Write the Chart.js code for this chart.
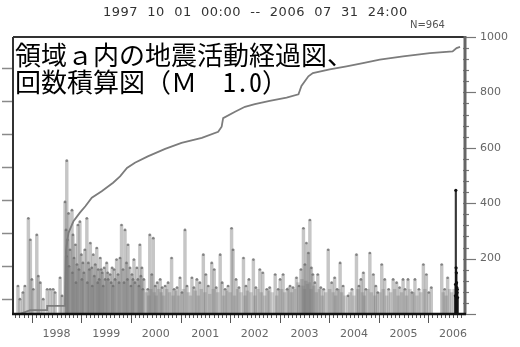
<!DOCTYPE html>
<html>
<head>
<meta charset="utf-8">
<script src="https://cdn.jsdelivr.net/npm/chart.js@4"></script>
<style>
  html, body { margin: 0; padding: 0; background: #fff; }
  #wrap { position: relative; width: 520px; height: 347px; overflow: hidden; }
  #c { position: absolute; left: 0; top: 0; }
  .t { position: absolute; white-space: pre; }
  #period { left: 103px; top: 4px; font: 13px "DejaVu Sans"; letter-spacing: 0.5px; color: #333; }
  #count { left: 410px; top: 19px; font: 10px "DejaVu Sans"; color: #555; }
  #cap { left: 15px; top: 40px; font: 26px/27px "Noto Sans Mono CJK JP", "Noto Sans CJK JP"; color: #000; }
</style>
</head>
<body>
<div id="wrap">
  <canvas id="c" width="520" height="347"></canvas>
  <div class="t" id="period"></div>
  <div class="t" id="count"></div>
  <div class="t" id="cap"></div>
</div>
<script>
// Period and caption
const periodLabel = '1997  10  01  00:00  --  2006  07  31  24:00';
const totalCount = 964;
const captionLines = ['領域ａ内の地震活動経過図、', '回数積算図（Ｍ　1.0）'];

// Axis ticks
const yearLabels = [1998, 1999, 2000, 2001, 2002, 2003, 2004, 2005, 2006];
const countTicks = [200, 400, 600, 800, 1000];
const countMinorStep = 40;
const magTicks = [1, 2, 3, 4, 5, 6, 7, 8];
const magAxisMin = 0.55;

// Cumulative number of events (decimal year, count)
const cumTime = [1997.75, 1997.97, 1998.31, 1998.31, 1998.67, 1998.69, 1998.74, 1998.84, 1998.97, 1999.08,
                 1999.21, 1999.41, 1999.64, 1999.78, 1999.92, 2000.08, 2000.34, 2000.69, 2001.02, 2001.43,
                 2001.76, 2001.83, 2001.86, 2002.10, 2002.30, 2002.50, 2002.80, 2003.14, 2003.38, 2003.44,
                 2003.58, 2003.67, 2004.01, 2004.35, 2004.68, 2005.02, 2005.49, 2006.03, 2006.49, 2006.57,
                 2006.64];
const cumCount = [0, 14, 14, 29, 29, 233, 293, 335, 366, 389,
                  420, 443, 474, 497, 527, 546, 569, 596, 618, 636,
                  658, 676, 707, 730, 748, 758, 769, 781, 793, 823,
                  858, 870, 883, 894, 906, 918, 930, 942, 948, 960,
                  964];

// Individual events (decimal year, magnitude)
const eventTime = [
  1997.72, 1997.76, 1997.82, 1997.86, 1997.93, 1997.97, 1998.00, 1998.03, 1998.10, 1998.13,
  1998.17, 1998.23, 1998.31, 1998.37, 1998.43, 1998.47, 1998.57, 1998.61, 1998.67, 1998.69,
  1998.70, 1998.705, 1998.72, 1998.74, 1998.75, 1998.77, 1998.81, 1998.82, 1998.83, 1998.85,
  1998.88, 1998.89, 1998.91, 1998.93, 1998.95, 1998.97, 1999.00, 1999.01, 1999.03, 1999.05,
  1999.07, 1999.11, 1999.12, 1999.14, 1999.16, 1999.18, 1999.21, 1999.22, 1999.24, 1999.26,
  1999.28, 1999.31, 1999.33, 1999.34, 1999.36, 1999.38, 1999.40, 1999.42, 1999.44, 1999.46,
  1999.48, 1999.51, 1999.53, 1999.54, 1999.58, 1999.60, 1999.62, 1999.64, 1999.66, 1999.68,
  1999.71, 1999.74, 1999.76, 1999.78, 1999.81, 1999.84, 1999.86, 1999.88, 1999.91, 1999.93,
  1999.94, 1999.98, 2000.00, 2000.02, 2000.04, 2000.06, 2000.08, 2000.12, 2000.14, 2000.16,
  2000.18, 2000.20, 2000.22, 2000.24, 2000.26, 2000.34, 2000.38, 2000.42, 2000.45, 2000.49,
  2000.53, 2000.59, 2000.63, 2000.69, 2000.75, 2000.82, 2000.87, 2000.93, 2000.99, 2001.03,
  2001.09, 2001.13, 2001.23, 2001.27, 2001.33, 2001.39, 2001.46, 2001.51, 2001.56, 2001.63,
  2001.68, 2001.72, 2001.80, 2001.84, 2001.90, 2001.96, 2002.03, 2002.06, 2002.12, 2002.18,
  2002.27, 2002.32, 2002.38, 2002.47, 2002.52, 2002.60, 2002.66, 2002.74, 2002.80, 2002.91,
  2002.97, 2003.01, 2003.07, 2003.15, 2003.21, 2003.27, 2003.34, 2003.39, 2003.43, 2003.48,
  2003.51, 2003.54, 2003.58, 2003.61, 2003.64, 2003.67, 2003.71, 2003.77, 2003.83, 2003.89,
  2003.98, 2004.05, 2004.11, 2004.16, 2004.22, 2004.28, 2004.38, 2004.46, 2004.55, 2004.60,
  2004.64, 2004.69, 2004.74, 2004.82, 2004.89, 2004.94, 2004.98, 2005.06, 2005.12, 2005.20,
  2005.29, 2005.36, 2005.42, 2005.49, 2005.53, 2005.59, 2005.67, 2005.73, 2005.81, 2005.90,
  2005.96, 2006.01, 2006.06, 2006.27, 2006.33, 2006.39
];
const eventMag = [
  1.4, 1.0, 1.2, 1.4, 3.45, 2.8, 1.6, 1.3, 2.95, 1.7,
  1.5, 1.0, 1.3, 1.3, 1.3, 1.2, 1.65, 1.1, 3.95, 3.1,
  2.3, 5.2, 2.8, 3.6, 2.0, 2.5, 3.7, 1.8, 2.95, 2.25,
  2.65, 1.5, 2.05, 3.25, 1.9, 3.35, 2.35, 1.6, 2.1, 1.8,
  2.5, 3.45, 1.5, 2.1, 1.9, 2.7, 1.95, 1.4, 2.35, 1.7,
  2.05, 2.55, 1.5, 1.9, 1.6, 2.25, 1.9, 1.8, 1.4, 1.95,
  1.6, 2.1, 1.8, 1.6, 1.75, 1.5, 1.95, 1.4, 1.9, 1.6,
  2.2, 1.75, 1.5, 2.25, 3.25, 1.9, 1.5, 3.1, 2.1, 1.6,
  2.65, 1.95, 1.4, 1.75, 1.6, 2.2, 1.5, 1.95, 1.6, 1.4,
  2.65, 1.7, 1.95, 1.3, 1.6, 1.3, 2.95, 1.75, 2.85, 1.4,
  1.5, 1.6, 1.35, 1.4, 1.5, 2.25, 1.3, 1.35, 1.65, 1.2,
  3.1, 1.4, 1.65, 1.35, 1.6, 1.5, 2.35, 1.75, 1.4, 2.1,
  1.9, 1.35, 2.35, 1.5, 1.3, 1.4, 3.15, 2.5, 1.6, 1.35,
  2.25, 1.4, 1.6, 2.2, 1.35, 1.9, 1.8, 1.3, 1.35, 1.75,
  1.3, 1.6, 1.75, 1.3, 1.4, 1.35, 1.65, 1.4, 1.9, 3.15,
  2.05, 2.7, 2.4, 3.4, 1.95, 1.75, 1.5, 1.75, 1.35, 1.3,
  2.5, 1.5, 1.65, 1.3, 2.1, 1.4, 1.1, 1.3, 2.35, 1.4,
  1.6, 1.8, 1.3, 2.4, 1.75, 1.4, 1.2, 2.05, 1.6, 1.3,
  1.6, 1.5, 1.35, 1.6, 1.3, 1.6, 1.2, 1.6, 1.3, 2.05,
  1.75, 1.2, 1.35, 2.05, 1.3, 1.65
];

// Smaller events forming the low band after 2000
const minorTime = [
  2000.31, 2000.36, 2000.40, 2000.47, 2000.51, 2000.56, 2000.61, 2000.66, 2000.72, 2000.78,
  2000.85, 2000.90, 2000.96, 2001.06, 2001.16, 2001.20, 2001.30, 2001.36, 2001.42, 2001.49,
  2001.59, 2001.66, 2001.75, 2001.87, 2001.93, 2002.00, 2002.09, 2002.15, 2002.22, 2002.30,
  2002.35, 2002.42, 2002.50, 2002.56, 2002.63, 2002.70, 2002.77, 2002.85, 2002.94, 2003.04,
  2003.10, 2003.18, 2003.24, 2003.30, 2003.37, 2003.45, 2003.47, 2003.50, 2003.53, 2003.56,
  2003.60, 2003.63, 2003.69, 2003.74, 2003.80, 2003.86, 2003.93, 2004.01, 2004.08, 2004.13,
  2004.19, 2004.25, 2004.32, 2004.42, 2004.50, 2004.58, 2004.67, 2004.71, 2004.78, 2004.85,
  2004.92, 2005.02, 2005.09, 2005.16, 2005.24, 2005.32, 2005.39, 2005.46, 2005.56, 2005.63,
  2005.70, 2005.77, 2005.85, 2005.93, 2006.30, 2006.36, 2006.43, 2006.47, 2006.52
];
const minorMag = [
  1.2, 1.1, 1.3, 1.2, 1.1, 1.3, 1.2, 1.1, 1.3, 1.2,
  1.1, 1.25, 1.1, 1.3, 1.2, 1.1, 1.25, 1.1, 1.3, 1.2,
  1.15, 1.3, 1.2, 1.1, 1.25, 1.2, 1.1, 1.3, 1.2, 1.1,
  1.25, 1.2, 1.1, 1.3, 1.2, 1.1, 1.25, 1.2, 1.1, 1.3,
  1.2, 1.35, 1.2, 1.3, 1.5, 1.6, 1.4, 1.3, 1.55, 1.45,
  1.5, 1.3, 1.4, 1.2, 1.3, 1.1, 1.2, 1.3, 1.2, 1.1,
  1.3, 1.2, 1.1, 1.2, 1.1, 1.3, 1.2, 1.1, 1.3, 1.2,
  1.1, 1.2, 1.3, 1.1, 1.2, 1.3, 1.1, 1.2, 1.1, 1.3,
  1.2, 1.1, 1.2, 1.3, 1.2, 1.1, 1.3, 1.2, 1.3
];

// Events of the latest month
const recentTime = [2006.545, 2006.55, 2006.555, 2006.56, 2006.565, 2006.57, 2006.575, 2006.58, 2006.585, 2006.59];
const recentMag = [1.1, 1.45, 4.3, 1.95, 1.8, 1.5, 1.35, 1.2, 1.3, 1.05];

document.getElementById('period').textContent = periodLabel;
document.getElementById('count').textContent = 'N=' + totalCount;
document.getElementById('cap').textContent = captionLines.join('\n');

const stems = (ts, ms) => ts.map((t, i) => ({ x: t, y: [magAxisMin, ms[i]] }));
const tops = (ts, ms) => ts.map((t, i) => ({ x: t, y: ms[i] }));

// Axis frame, tick marks on all three axes
const frameAndTicks = {
  id: 'frameAndTicks',
  afterDraw(chart) {
    const { ctx, chartArea: a, scales } = chart;
    const seg = (x1, y1, x2, y2) => { ctx.beginPath(); ctx.moveTo(x1, y1); ctx.lineTo(x2, y2); ctx.stroke(); };
    ctx.save();
    ctx.strokeStyle = '#8a8a8a';
    ctx.lineWidth = 1.5;
    magTicks.forEach(m => { const y = Math.round(scales.yM.getPixelForValue(m)) + 0.5; seg(a.left - 11, y, a.left, y); });
    ctx.strokeStyle = '#777';
    ctx.lineWidth = 1.2;
    for (let v = 0; v <= 1000; v += countMinorStep) {
      const y = Math.round(scales.yN.getPixelForValue(v)) + 0.5;
      seg(a.right - 2, y, a.right + (v % 200 === 0 ? 11 : 4), y);
    }
    ctx.strokeStyle = '#555';
    ctx.lineWidth = 1;
    for (let yr = 1997; yr <= 2006; yr++) {
      for (let m = 0; m < 12; m++) {
        const v = yr + m / 12;
        if (v < scales.x.min || v > scales.x.max) continue;
        const x = Math.round(scales.x.getPixelForValue(v)) + 0.5;
        seg(x, a.bottom, x, a.bottom + (m === 0 ? 9 : 4));
      }
    }
    ctx.strokeStyle = '#333';
    ctx.lineWidth = 2;
    seg(a.left, a.top, a.right, a.top);
    seg(a.left, a.top, a.left, a.bottom);
    ctx.strokeStyle = '#666';
    ctx.lineWidth = 3;
    seg(a.right, a.top - 1, a.right, a.bottom + 1);
    ctx.strokeStyle = '#111';
    ctx.lineWidth = 2.5;
    seg(a.left - 1, a.bottom, a.right + 1, a.bottom);
    ctx.restore();
  }
};

const tickFont = { family: 'DejaVu Sans', size: 11 };

new Chart(document.getElementById('c'), {
  type: 'bar',
  data: {
    datasets: [
      {
        type: 'line', yAxisID: 'yN', order: 0,
        data: cumTime.map((t, i) => ({ x: t, y: cumCount[i] })),
        borderColor: '#7c7c7c', borderWidth: 1.8, pointRadius: 0, tension: 0, fill: false
      },
      {
        type: 'scatter', yAxisID: 'yM', order: 1,
        data: tops(recentTime, recentMag),
        pointRadius: 1.6, backgroundColor: '#111', borderWidth: 0
      },
      {
        type: 'bar', yAxisID: 'yM', order: 2, grouped: false,
        data: stems(recentTime, recentMag),
        backgroundColor: 'rgba(20,20,20,0.85)', barThickness: 1.5
      },
      {
        type: 'scatter', yAxisID: 'yM', order: 3,
        data: tops(eventTime, eventMag),
        pointRadius: 1.3, backgroundColor: 'rgba(110,110,110,0.8)', borderWidth: 0
      },
      {
        type: 'bar', yAxisID: 'yM', order: 4, grouped: false,
        data: stems(eventTime, eventMag),
        backgroundColor: 'rgba(120,120,120,0.42)', barThickness: 2.8
      },
      {
        type: 'bar', yAxisID: 'yM', order: 5, grouped: false,
        data: stems(minorTime, minorMag),
        backgroundColor: 'rgba(120,120,120,0.35)', barThickness: 2.8
      }
    ]
  },
  options: {
    responsive: false,
    animation: false,
    layout: { padding: { top: 37, left: 0, right: 0, bottom: 0 } },
    plugins: { legend: { display: false }, tooltip: { enabled: false }, title: { display: false } },
    scales: {
      x: {
        type: 'linear', min: 1997.62, max: 2006.74, offset: false,
        afterBuildTicks: s => { s.ticks = yearLabels.map(y => ({ value: y + 0.5 })); },
        ticks: { callback: v => String(Math.floor(v)), font: tickFont, color: '#666', padding: 14, maxRotation: 0, autoSkip: false },
        grid: { display: false, drawTicks: false },
        border: { display: false },
        afterFit: s => { s.height = 33; }
      },
      yM: {
        type: 'linear', position: 'left', min: magAxisMin, max: 8.95,
        afterBuildTicks: s => { s.ticks = magTicks.map(v => ({ value: v })); },
        ticks: { display: false },
        grid: { display: false, drawTicks: false },
        border: { display: false },
        afterFit: s => { s.width = 13; }
      },
      yN: {
        type: 'linear', position: 'right', min: 0, max: 1000,
        afterBuildTicks: s => { s.ticks = countTicks.map(v => ({ value: v })); },
        ticks: { callback: v => String(v), font: tickFont, color: '#666', padding: 15 },
        grid: { display: false, drawTicks: false },
        border: { display: false },
        afterFit: s => { s.width = 55; }
      }
    }
  },
  plugins: [frameAndTicks]
});
</script>
</body>
</html>
